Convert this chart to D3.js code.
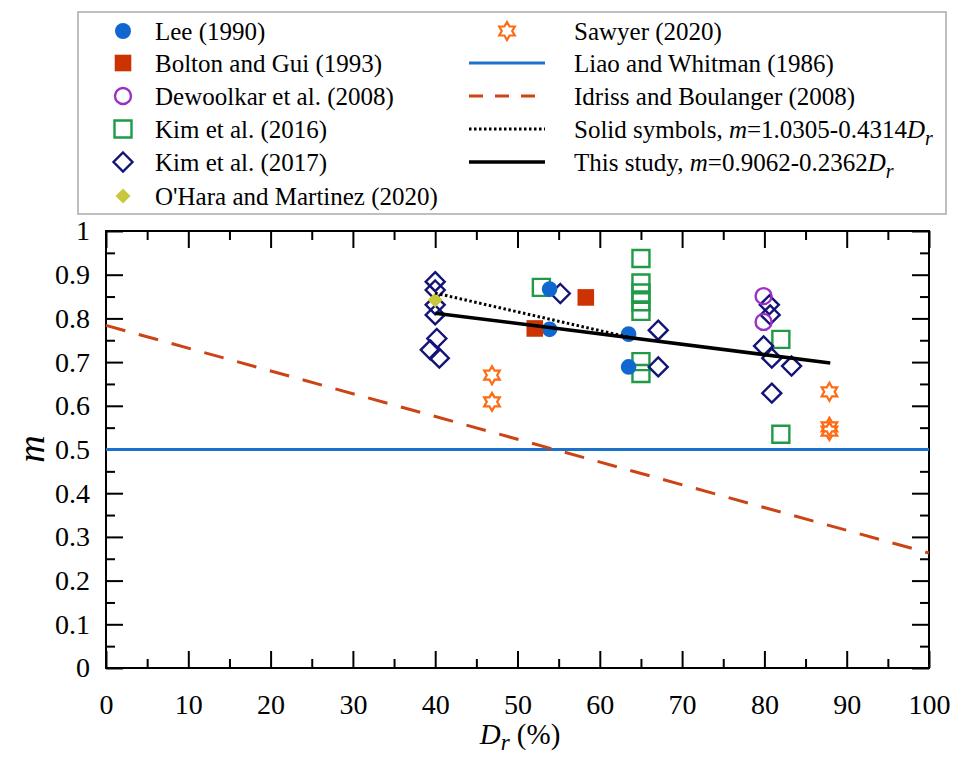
<!DOCTYPE html>
<html>
<head>
<meta charset="utf-8">
<script src="https://cdn.jsdelivr.net/npm/d3@7"></script>
<style>
  body { margin: 0; background: #fff; }
  text { font-family: "Liberation Serif", "Times New Roman", serif; fill: #000; }
</style>
</head>
<body>
<div id="chart"></div>
<script>
// data (Dr in %, m)
var lee = [[53.9, 0.867], [53.9, 0.775], [63.5, 0.764], [63.5, 0.689]];
var bolton = [[58.3, 0.848], [52.1, 0.777]];
var dewoolkar = [[79.9, 0.851], [79.9, 0.792]];
var kim2016 = [[52.9, 0.871], [65.0, 0.937], [65.0, 0.881], [65.0, 0.858], [65.0, 0.838], [65.0, 0.816],
               [65.0, 0.701], [65.0, 0.674], [82.0, 0.752], [82.0, 0.535]];
var kim2017 = [[40.0, 0.884], [40.0, 0.865], [40.0, 0.831], [40.0, 0.808], [40.2, 0.754], [39.4, 0.728],
               [40.5, 0.709], [55.2, 0.857], [67.1, 0.773], [67.1, 0.689], [80.6, 0.831], [80.7, 0.808],
               [79.9, 0.737], [80.9, 0.709], [83.3, 0.691], [80.9, 0.629]];
var ohara = [[40.0, 0.842]];
var sawyer = [[46.9, 0.670], [46.9, 0.609], [87.9, 0.632], [87.9, 0.552], [87.9, 0.542]];

var liaoLine = [[0, 0.5], [100, 0.5]];
var idrissLine = [[0, 0.784], [100, 0.263]];
var solidLine = [[40, 0.858], [63.5, 0.757]];
var studyLine = [[40, 0.812], [88, 0.698]];

var xMajor = [0, 10, 20, 30, 40, 50, 60, 70, 80, 90, 100];
var yMajor = [0, 0.1, 0.2, 0.3, 0.4, 0.5, 0.6, 0.7, 0.8, 0.9, 1];

var width = 953, height = 760;
var pLeft = 106, pRight = 929, pTop = 231, pBottom = 668;

var svg = d3.select("#chart").append("svg")
  .attr("width", width)
  .attr("height", height);

var x = d3.scaleLinear().domain([0, 100]).range([pLeft, pRight]);
var y = d3.scaleLinear().domain([0, 1]).range([pBottom, pTop]);

var xMinor = d3.range(5, 100, 10);
var yMinor = d3.range(0.05, 1, 0.1);

// frame
svg.append("rect")
  .attr("x", pLeft).attr("y", pTop)
  .attr("width", pRight - pLeft).attr("height", pBottom - pTop)
  .attr("fill", "none").attr("stroke", "#000").attr("stroke-width", 2);

function tickStyle(g){
  g.select(".domain").remove();
  g.selectAll(".tick line").attr("stroke", "#000").attr("stroke-width", 2);
}

svg.append("g").attr("transform", "translate(0," + pBottom + ")")
  .call(d3.axisBottom(x).tickValues(xMajor).tickSize(-17).tickPadding(26).tickFormat(d3.format("d")))
  .call(tickStyle)
  .selectAll("text").style("font-size", "28px").attr("font-family", "Liberation Serif");
svg.append("g").attr("transform", "translate(0," + pBottom + ")")
  .call(d3.axisBottom(x).tickValues(xMinor).tickSize(-9).tickFormat(""))
  .call(tickStyle);
svg.append("g").attr("transform", "translate(0," + pTop + ")")
  .call(d3.axisTop(x).tickValues(xMajor).tickSize(-17).tickFormat(""))
  .call(tickStyle);
svg.append("g").attr("transform", "translate(0," + pTop + ")")
  .call(d3.axisTop(x).tickValues(xMinor).tickSize(-9).tickFormat(""))
  .call(tickStyle);

svg.append("g").attr("transform", "translate(" + pLeft + ",0)")
  .call(d3.axisLeft(y).tickValues(yMajor).tickSize(-17).tickPadding(16)
        .tickFormat(function(d){ return d == 0 || d == 1 ? d3.format("d")(d) : d3.format(".1f")(d); }))
  .call(tickStyle)
  .selectAll("text").style("font-size", "28px").attr("font-family", "Liberation Serif");
svg.append("g").attr("transform", "translate(" + pLeft + ",0)")
  .call(d3.axisLeft(y).tickValues(yMinor).tickSize(-9).tickFormat(""))
  .call(tickStyle);
svg.append("g").attr("transform", "translate(" + pRight + ",0)")
  .call(d3.axisRight(y).tickValues(yMajor).tickSize(-17).tickFormat(""))
  .call(tickStyle);
svg.append("g").attr("transform", "translate(" + pRight + ",0)")
  .call(d3.axisRight(y).tickValues(yMinor).tickSize(-9).tickFormat(""))
  .call(tickStyle);

// axis titles
var xt = svg.append("text").attr("x", 520).attr("y", 744).attr("text-anchor", "middle").style("font-size", "29px");
xt.append("tspan").attr("font-style", "italic").text("D");
xt.append("tspan").attr("font-style", "italic").attr("dy", 6).style("font-size", "23px").text("r");
xt.append("tspan").attr("dy", -6).text(" (%)");

svg.append("text")
  .attr("transform", "translate(33,449) rotate(-90)")
  .attr("text-anchor", "middle")
  .attr("dy", "0.3em")
  .attr("font-style", "italic")
  .style("font-size", "38px")
  .text("m");

var line = d3.line().x(function(d){ return x(d[0]); }).y(function(d){ return y(d[1]); });

// colours
var cLee = "#1167d0", cBolton = "#cc3300", cDew = "#9b30c8", cK16 = "#1f9a45",
    cK17 = "#141478", cOhara = "#c8c83c", cSaw = "#ff6a13", cLiao = "#1b72c8", cIdriss = "#cc4415";

var plot = svg.append("g");

plot.append("path").datum(liaoLine).attr("d", line)
  .attr("fill", "none").attr("stroke", cLiao).attr("stroke-width", 3);
plot.append("path").datum(idrissLine).attr("d", line)
  .attr("fill", "none").attr("stroke", cIdriss).attr("stroke-width", 3).attr("stroke-dasharray", "20,14");

function hexagram(R){
  var r = R / Math.sqrt(3), pts = [];
  for(var k=0;k<12;k++){
    var a = (-90 + 30*k) * Math.PI / 180, rr = (k % 2 == 0) ? R : r;
    pts.push([rr*Math.cos(a), rr*Math.sin(a)]);
  }
  return "M" + pts.join("L") + "Z";
}
function diamond(h){
  return "M0," + (-h) + "L" + h + ",0L0," + h + "L" + (-h) + ",0Z";
}

function drawMarks(data, shape, fill, stroke, sw){
  var g = plot.append("g");
  g.selectAll("path").data(data).enter().append("path")
    .attr("transform", function(d){ return "translate(" + x(d[0]) + "," + y(d[1]) + ")"; })
    .attr("d", shape)
    .attr("fill", fill).attr("stroke", stroke).attr("stroke-width", sw);
}
var sq = "M-8.5,-8.5H8.5V8.5H-8.5Z";
var circ = d3.symbol().type(d3.symbolCircle).size(Math.PI*8*8)();

drawMarks(kim2016, sq, "none", cK16, 2.4);
drawMarks(kim2017, diamond(9.5), "none", cK17, 2.4);
drawMarks(dewoolkar, circ, "none", cDew, 2.4);
drawMarks(sawyer, hexagram(9), "none", cSaw, 2.2);
drawMarks(lee, d3.symbol().type(d3.symbolCircle).size(Math.PI*7.8*7.8)(), cLee, "none", 0);
drawMarks(bolton, "M-8.3,-8.3H8.3V8.3H-8.3Z", cBolton, "none", 0);
drawMarks(ohara, diamond(7.5), cOhara, "none", 0);

plot.append("path").datum(solidLine).attr("d", line)
  .attr("fill", "none").attr("stroke", "#000").attr("stroke-width", 3).attr("stroke-dasharray", "2.5,2.5");
plot.append("path").datum(studyLine).attr("d", line)
  .attr("fill", "none").attr("stroke", "#000").attr("stroke-width", 3.5);

// legend
var lg = svg.append("g");
lg.append("rect").attr("x", 78).attr("y", 12).attr("width", 868).attr("height", 202)
  .attr("fill", "#fff").attr("stroke", "#aaa").attr("stroke-width", 1.5);

var rowY = [31, 63, 96, 129, 162, 196];
var leftItems = [
  {label: "Lee (1990)", shape: circ, fill: cLee, stroke: "none", sw: 0},
  {label: "Bolton and Gui (1993)", shape: "M-8.3,-8.3H8.3V8.3H-8.3Z", fill: cBolton, stroke: "none", sw: 0},
  {label: "Dewoolkar et al. (2008)", shape: circ, fill: "none", stroke: cDew, sw: 2.4},
  {label: "Kim et al. (2016)", shape: sq, fill: "none", stroke: cK16, sw: 2.4},
  {label: "Kim et al. (2017)", shape: diamond(9.5), fill: "none", stroke: cK17, sw: 2.4},
  {label: "O'Hara and Martinez (2020)", shape: diamond(7.5), fill: cOhara, stroke: "none", sw: 0}
];
leftItems.forEach(function(d, i){
  lg.append("path").attr("transform", "translate(123," + rowY[i] + ")")
    .attr("d", d.shape).attr("fill", d.fill).attr("stroke", d.stroke).attr("stroke-width", d.sw);
  lg.append("text").attr("x", 155).attr("y", rowY[i]).attr("dy", "0.35em")
    .style("font-size", "25px").text(d.label);
});

// right column
lg.append("path").attr("transform", "translate(507," + rowY[0] + ")")
  .attr("d", hexagram(9)).attr("fill", "none").attr("stroke", cSaw).attr("stroke-width", 2.2);
var rightLines = [
  {stroke: cLiao, sw: 3, dash: null},
  {stroke: cIdriss, sw: 3, dash: "14,12"},
  {stroke: "#000", sw: 3, dash: "2.5,2.5"},
  {stroke: "#000", sw: 3.5, dash: null}
];
rightLines.forEach(function(d, i){
  lg.append("line").attr("x1", 469).attr("x2", 545).attr("y1", rowY[i+1]).attr("y2", rowY[i+1])
    .attr("stroke", d.stroke).attr("stroke-width", d.sw).attr("stroke-dasharray", d.dash);
});
var rightText = ["Sawyer (2020)", "Liao and Whitman (1986)", "Idriss and Boulanger (2008)"];
rightText.forEach(function(t, i){
  lg.append("text").attr("x", 574).attr("y", rowY[i]).attr("dy", "0.35em").style("font-size", "25px").text(t);
});
function eqText(yy, prefix, eq){
  var t = lg.append("text").attr("x", 574).attr("y", yy).attr("dy", "0.35em").style("font-size", "25px");
  t.append("tspan").text(prefix);
  t.append("tspan").attr("font-style", "italic").text("m");
  t.append("tspan").text("=" + eq);
  t.append("tspan").attr("font-style", "italic").text("D");
  t.append("tspan").attr("font-style", "italic").attr("dy", 7).style("font-size", "20px").text("r");
}
eqText(rowY[3], "Solid symbols, ", "1.0305-0.4314");
eqText(rowY[4], "This study, ", "0.9062-0.2362");
</script>
</body>
</html>
